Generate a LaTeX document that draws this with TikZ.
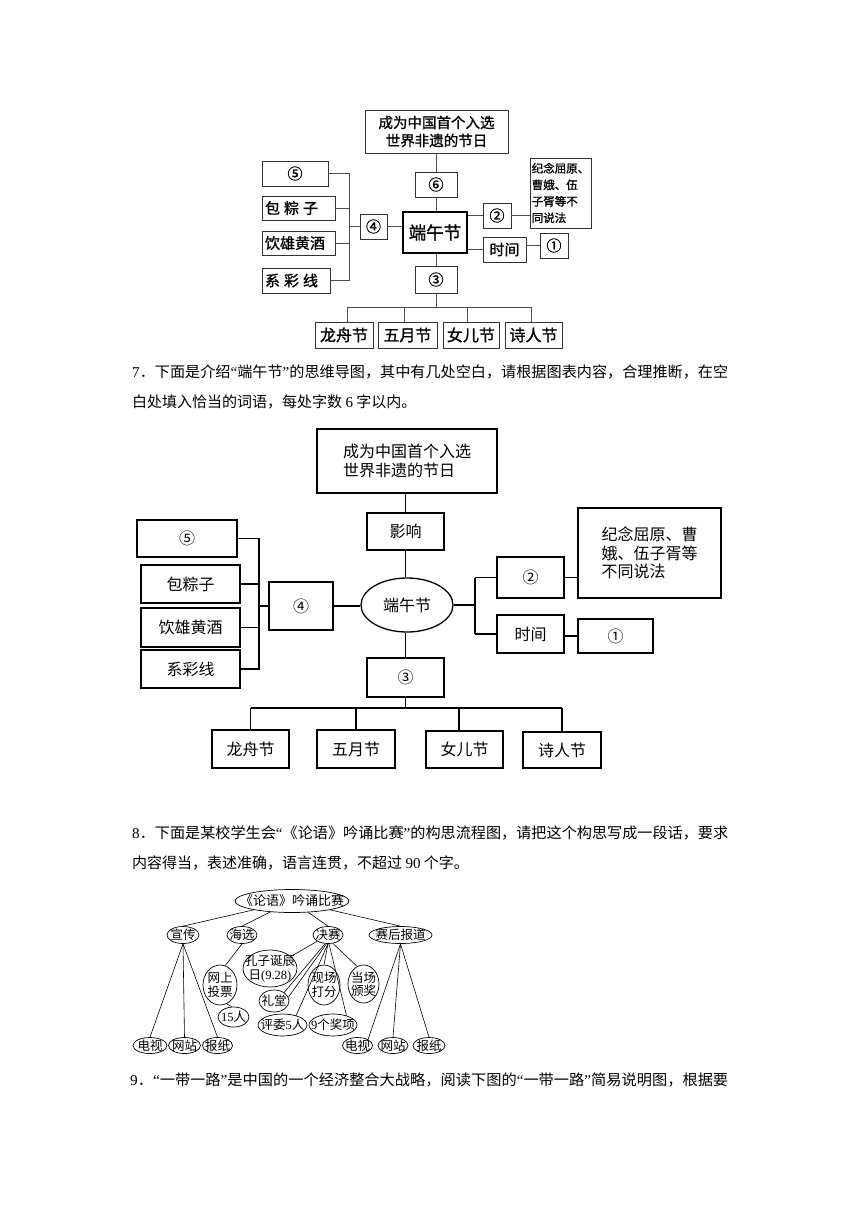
\documentclass[tikz,border=0pt]{standalone}
\usepackage{fontspec}
\usepackage{graphicx}
\setmainfont{Noto Sans CJK SC}
\newfontfamily\cjkb[FakeBold=1.2]{Noto Sans CJK SC}
\newfontfamily\lat{Liberation Serif}
\usetikzlibrary{shapes.geometric}
\begin{document}
\begin{tikzpicture}[x=1pt,y=-1pt,
  tbox/.style={draw=black!80, line width=0.9pt, inner sep=0pt, font=\cjkb\fontsize{15}{18}\selectfont},
  tline/.style={draw=black!70, line width=0.8pt},
  bbox/.style={draw=black, line width=1.3pt, inner sep=0pt, font=\fontsize{16}{18.5}\selectfont},
  bline/.style={draw=black, line width=1.3pt},
  tn/.style={ellipse, draw=black, line width=0.7pt, inner xsep=-3pt, inner ysep=-1pt, align=center, font=\fontsize{12.5}{13.5}\selectfont},
  tl/.style={draw=black, line width=0.6pt},
  para/.style={anchor=west, inner sep=0pt, font=\fontsize{15}{18}\selectfont}]
\useasboundingbox (0,0) rectangle (860,1216);
\fill[white] (0,0) rectangle (860,1216);

% ---------------- top diagram ----------------
\node[tbox, minimum width=143pt, minimum height=43pt, align=center, font=\cjkb\fontsize{14.5}{18}\selectfont] (ttop) at (436.5,131.5) {成为中国首个入选\\世界非遗的节日};
\node[tbox, minimum width=42pt, minimum height=25pt] (t6) at (436,184.5) {⑥};
\node[tbox, line width=2pt, draw=black, minimum width=64pt, minimum height=41pt, font=\cjkb\fontsize{17.5}{20}\selectfont] (tc) at (435,232.5) {端午节};
\node[tbox, minimum width=28pt, minimum height=25pt] (t2) at (497,215.5) {②};
\node[tbox, minimum width=61pt, minimum height=70pt, align=left, font=\cjkb\fontsize{11.5}{16.5}\selectfont] (tj) at (560.5,193) {纪念屈原、\\曹娥、伍\\子胥等不\\同说法};
\node[tbox, minimum width=43pt, minimum height=25pt] (tt) at (504.5,249.5) {时间};
\node[tbox, minimum width=28pt, minimum height=25pt] (t1) at (554,245.5) {①};
\node[tbox, minimum width=27pt, minimum height=25pt] (t4) at (373.5,226.5) {④};
\node[tbox, minimum width=66pt, minimum height=25pt] (t5) at (295,173.5) {⑤};
\node[tbox, minimum width=73pt, minimum height=24pt, inner xsep=3pt, text width=67pt, align=left] (tb) at (298.5,208) {包\hspace{4pt}粽\hspace{4pt}子};
\node[tbox, minimum width=73pt, minimum height=24pt, inner xsep=3pt, text width=67pt, align=left] (ty) at (298.5,243) {饮雄黄酒};
\node[tbox, minimum width=68pt, minimum height=25pt, inner xsep=3pt, text width=62pt, align=left] (tx) at (296,280.5) {系\hspace{4pt}彩\hspace{4pt}线};
\node[tbox, minimum width=42pt, minimum height=27pt] (t3) at (436,279.5) {③};
\node[tbox, minimum width=58pt, minimum height=26pt, font=\cjkb\fontsize{16}{18}\selectfont] (tlz) at (344,335) {龙舟节};
\node[tbox, minimum width=59pt, minimum height=26pt, font=\cjkb\fontsize{16}{18}\selectfont] (twy) at (407.5,335) {五月节};
\node[tbox, minimum width=56pt, minimum height=26pt, font=\cjkb\fontsize{16}{18}\selectfont] (tnv) at (471,335) {女儿节};
\node[tbox, minimum width=57pt, minimum height=26pt, font=\cjkb\fontsize{16}{18}\selectfont] (tsr) at (533.5,335) {诗人节};

\draw[tline] (t6.north |- ttop.south) -- (t6.north);
\draw[tline] (t6.south) -- (t6.south |- tc.north);
\draw[tline] (t3.north |- tc.south) -- (t3.north);
\coordinate (tbus) at (436,307);
\coordinate (tbl) at (347,307);
\coordinate (tbr) at (531,307);
\coordinate (td2) at (404,307);
\coordinate (td3) at (467,307);
\draw[tline] (t3.south) -- (tbus);
\draw[tline] (tbl) -- (tbr);
\draw[tline] (tbl) -- (tbl |- tlz.north);
\draw[tline] (td2) -- (td2 |- twy.north);
\draw[tline] (td3) -- (td3 |- tnv.north);
\draw[tline] (tbr) -- (tbr |- tsr.north);
\coordinate (tk) at (349,226.5);
\draw[tline] (t5.east) -- (t5.east -| tk) -- (tx.east -| tk) -- (tx.east);
\draw[tline] (tb.east) -- (tb.east -| tk);
\draw[tline] (ty.east) -- (ty.east -| tk);
\draw[tline] (tk) -- (t4.west);
\draw[tline] (t4.east) -- (t4.east -| tc.west);
\draw[tline] (t2.west -| tc.east) -- (t2.west);
\draw[tline] (tt.west -| tc.east) -- (tt.west);
\draw[tline] (t2.east) -- (t2.east -| tj.west);
\draw[tline] (tt.east |- t1.west) -- (t1.west);

% ---------------- question 7 ----------------
\node[para] (p7a) at (132,372) {\resizebox{596pt}{\height}{{\lat 7}．下面是介绍{\lat “}端午节{\lat ”}的思维导图，其中有几处空白，请根据图表内容，合理推断，在空}};
\node[para] (p7b) at (132,402) {白处填入恰当的词语，每处字数 {\lat 6} 字以内。};

% ---------------- second diagram ----------------
\node[bbox, minimum width=180pt, minimum height=64pt, align=left] (btop) at (407,461) {成为中国首个入选\\世界非遗的节日};
\node[bbox, minimum width=77pt, minimum height=37pt] (bying) at (405.5,531.5) {影响};
\node[bbox, ellipse, minimum width=92pt, minimum height=54pt] (bc) at (407,605) {端午节};
\node[bbox, minimum width=64pt, minimum height=48pt] (b4) at (301,606) {④};
\node[bbox, minimum width=100pt, minimum height=37pt] (b5) at (187,538.5) {⑤};
\node[bbox, minimum width=99pt, minimum height=38pt] (bb) at (190.5,584) {包粽子};
\node[bbox, minimum width=99pt, minimum height=39pt] (by) at (190.5,627.5) {饮雄黄酒};
\node[bbox, minimum width=99pt, minimum height=38pt] (bx) at (190.5,669) {系彩线};
\node[bbox, minimum width=77pt, minimum height=39pt] (b3) at (405.5,677.5) {③};
\node[bbox, minimum width=77pt, minimum height=38pt] (blz) at (250.5,749) {龙舟节};
\node[bbox, minimum width=78pt, minimum height=38pt] (bwy) at (356,749) {五月节};
\node[bbox, minimum width=77pt, minimum height=37pt] (bnv) at (464.5,749.5) {女儿节};
\node[bbox, minimum width=78pt, minimum height=36pt] (bsr) at (562,750) {诗人节};
\node[bbox, minimum width=67pt, minimum height=41pt] (b2) at (530.5,577.5) {②};
\node[bbox, minimum width=67pt, minimum height=38pt] (btime) at (530.5,634) {时间};
\node[bbox, minimum width=143pt, minimum height=90pt, align=left] (bj) at (649.5,553) {纪念屈原、曹\\娥、伍子胥等\\不同说法};
\node[bbox, minimum width=75pt, minimum height=34pt] (b1) at (615.5,636) {①};

\draw[bline] (bying.north |- btop.south) -- (bying.north);
\draw[bline] (bying.south) -- (bying.south |- bc.north);
\draw[bline] (b3.north |- bc.south) -- (b3.north);
\coordinate (bbus) at (405.5,708);
\coordinate (bbl) at (250.5,708);
\coordinate (bbr) at (562,708);
\coordinate (bd3) at (459,708);
\draw[bline] (b3.south) -- (bbus);
\draw[bline] (bbl) -- (bbr);
\draw[bline] (bbl) -- (blz.north);
\draw[bline] (bwy.north |- bbus) -- (bwy.north);
\draw[bline] (bd3) -- (bd3 |- bnv.north);
\draw[bline] (bbr) -- (bsr.north);
\coordinate (bk) at (259,606);
\draw[bline] (b5.east) -- (b5.east -| bk) -- (bx.east -| bk) -- (bx.east);
\draw[bline] (bb.east) -- (bb.east -| bk);
\draw[bline] (by.east) -- (by.east -| bk);
\draw[bline] (bk) -- (b4.west);
\draw[bline] (b4.east) -- (b4.east -| bc.west);
\coordinate (bkr) at (475,605);
\draw[bline] (bc.east) -- (bkr);
\draw[bline] (b2.west -| bkr) -- (btime.west -| bkr);
\draw[bline] (b2.west -| bkr) -- (b2.west);
\draw[bline] (btime.west -| bkr) -- (btime.west);
\draw[bline] (b2.east) -- (b2.east -| bj.west);
\draw[bline] (btime.east |- b1.west) -- (b1.west);

% ---------------- question 8 ----------------
\node[para] (p8a) at (132,833) {\resizebox{596pt}{\height}{{\lat 8}．下面是某校学生会{\lat “}《论语》吟诵比赛{\lat ”}的构思流程图，请把这个构思写成一段话，要求}};
\node[para] (p8b) at (132,863) {内容得当，表述准确，语言连贯，不超过 {\lat 90} 个字。};

% ---------------- tree ----------------
\node[tn, inner xsep=-12pt, minimum width=114pt, minimum height=23pt, font=\fontsize{13}{15}\selectfont] (lr) at (292,901) {《论语》吟诵比赛};
\node[tn, minimum width=32pt, minimum height=17pt] (xc) at (183,935) {宣传};
\node[tn, minimum width=30pt, minimum height=17pt] (hx) at (242,935) {海选};
\node[tn, minimum width=30pt, minimum height=17pt] (js) at (328,935) {决赛};
\node[tn, minimum width=63pt, minimum height=17pt] (sh) at (400.5,935) {赛后报道};
\node[tn, minimum width=34pt, minimum height=40pt] (ws) at (220,985) {网上\\投票};
\node[tn, minimum width=31pt, minimum height=20pt] (sr) at (233.5,1017) {{\lat 15}人};
\node[tn, inner xsep=-8pt, minimum width=54pt, minimum height=37pt] (kz) at (270,968.5) {孔子诞辰\\日{\lat (9.28)}};
\node[tn, minimum width=32pt, minimum height=40pt] (xf) at (324,985) {现场\\打分};
\node[tn, minimum width=31pt, minimum height=38pt] (dj) at (363.5,984) {当场\\颁奖};
\node[tn, minimum width=30pt, minimum height=22pt] (lt) at (274,1001) {礼堂};
\node[tn, inner xsep=-5pt, minimum width=49pt, minimum height=22pt] (pw) at (282.5,1025) {评委{\lat 5}人};
\node[tn, inner xsep=-5pt, minimum width=48pt, minimum height=22pt] (jx) at (333,1025) {{\lat 9}个奖项};
\node[tn, minimum width=34pt, minimum height=16pt] (le1) at (150,1045.5) {电视};
\node[tn, minimum width=32pt, minimum height=16pt] (le2) at (184.5,1045.5) {网站};
\node[tn, minimum width=30pt, minimum height=16pt] (le3) at (217.5,1045.5) {报纸};
\node[tn, minimum width=30pt, minimum height=16pt] (re1) at (357.5,1045.5) {电视};
\node[tn, minimum width=30pt, minimum height=16pt] (re2) at (393,1045.5) {网站};
\node[tn, minimum width=32pt, minimum height=16pt] (re3) at (429,1045.5) {报纸};

\draw[tl] (lr) -- (xc.north);
\draw[tl] (lr) -- (hx.north);
\draw[tl] (lr) -- (js.north);
\draw[tl] (lr) -- (sh.north);
\draw[tl] (xc.south) -- (le1.north);
\draw[tl] (xc.south) -- (le2.north);
\draw[tl] (xc.south) -- (le3.north);
\draw[tl] (sh.south) -- (re1.30);
\draw[tl] (sh.south) -- (re2.north);
\draw[tl] (sh.south) -- (re3.north);
\draw[tl] (hx.south) -- (ws.75);
\draw[tl] (ws.-70) -- (sr.100);
\draw[tl] (js) -- (kz);
\draw[tl] ([xshift=-3pt]js.south) -- (lt.40);
\draw[tl] ([xshift=-1.5pt]js.south) -- (lt.15);
\draw[tl] (js.south) -- (pw.35);
\draw[tl] (js.south) -- (xf.north);
\draw[tl] ([xshift=1pt]js.south) -- (jx.35);
\draw[tl] (js.-60) -- (dj.110);

% ---------------- question 9 ----------------
\node[para] (p9) at (130,1080) {\resizebox{598pt}{\height}{{\lat 9}．{\lat “}一带一路{\lat ”}是中国的一个经济整合大战略，阅读下图的{\lat “}一带一路{\lat ”}简易说明图，根据要}};
\end{tikzpicture}
\end{document}
